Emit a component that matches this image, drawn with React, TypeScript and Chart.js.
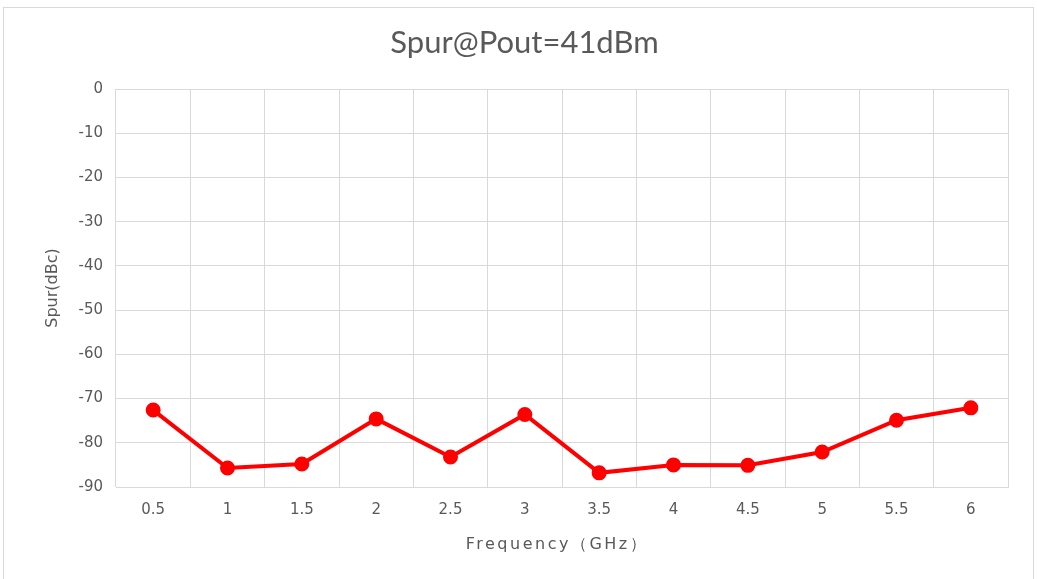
import React, { useEffect, useRef } from "react";
import { Chart, registerables } from "chart.js";

Chart.register(...registerables);

const chartTitle = "Spur@Pout=41dBm";
const xAxisTitle = "Frequency（GHz）";
const yAxisTitle = "Spur(dBc)";
const frequencies = ["0.5", "1", "1.5", "2", "2.5", "3", "3.5", "4", "4.5", "5", "5.5", "6"];
const spurValues = [-72.6, -85.7, -84.8, -74.6, -83.2, -73.6, -86.8, -85.0, -85.1, -82.1, -74.9, -72.1];
const yMin = -90;
const yMax = 0;
const yStep = 10;

const textColor = "#595959";
const gridColor = "#d9d9d9";
const lineColor = "#ff0000";

const textPlugin = {
  id: "textPlugin",
  afterDraw(chart: any) {
    const { ctx, chartArea } = chart;
    ctx.save();
    ctx.fillStyle = textColor;
    ctx.textAlign = "center";
    ctx.textBaseline = "middle";
    ctx.font = '31px "Lato"';
    ctx.fillText(chartTitle, chart.width / 2 + 6, 43);
    ctx.font = '16px "DejaVu Sans"';
    (ctx as any).letterSpacing = "2.5px";
    ctx.fillText(xAxisTitle, (chartArea.left + chartArea.right) / 2 - 5, chartArea.bottom + 58);
    ctx.restore();
  },
};

export default function App() {
  const canvasRef = useRef<HTMLCanvasElement | null>(null);

  useEffect(() => {
    document.body.style.margin = "0";
    const canvas = canvasRef.current;
    if (!canvas) return;
    const chart = new Chart(canvas, {
      type: "line",
      data: {
        labels: frequencies,
        datasets: [
          {
            label: yAxisTitle,
            data: spurValues,
            borderColor: lineColor,
            backgroundColor: lineColor,
            borderWidth: 4,
            pointRadius: 5.5,
            pointHoverRadius: 5.5,
            pointBackgroundColor: lineColor,
            pointBorderColor: lineColor,
            tension: 0,
          },
        ],
      },
      options: {
        responsive: false,
        animation: false,
        layout: { padding: { left: 0, right: 29, top: 89, bottom: 0 } },
        plugins: {
          legend: { display: false },
          tooltip: { enabled: false },
          title: { display: false },
        },
        scales: {
          x: {
            offset: true,
            grid: { offset: true, color: gridColor, drawTicks: false, lineWidth: 1 },
            border: { color: gridColor },
            ticks: {
              color: textColor,
              font: { family: "DejaVu Sans", size: 15 },
              padding: 14,
              maxRotation: 0,
            },
            afterFit(scale: any) {
              scale.height = 92;
            },
          },
          y: {
            min: yMin,
            max: yMax,
            grid: { color: gridColor, drawTicks: false, lineWidth: 1 },
            border: { display: false },
            ticks: {
              stepSize: yStep,
              color: textColor,
              font: { family: "DejaVu Sans", size: 15 },
              padding: 13,
            },
            title: {
              display: true,
              text: yAxisTitle,
              color: textColor,
              font: { family: "DejaVu Sans", size: 16 },
              padding: { top: 43, bottom: 0 },
            },
            afterFit(scale: any) {
              scale.width = 116;
            },
          },
        },
      },
      plugins: [textPlugin],
    });
    return () => chart.destroy();
  }, []);

  return (
    <div style={{ position: "fixed", left: 0, top: 0, width: 1037, height: 579, background: "#fff", overflow: "hidden" }}>
      <div
        style={{
          position: "absolute",
          left: 3,
          top: 7,
          width: 1029,
          height: 600,
          border: "1px solid #d9d9d9",
        }}
      />
      <canvas ref={canvasRef} width={1037} height={579} style={{ position: "absolute", left: 0, top: 0 }} />
    </div>
  );
}
